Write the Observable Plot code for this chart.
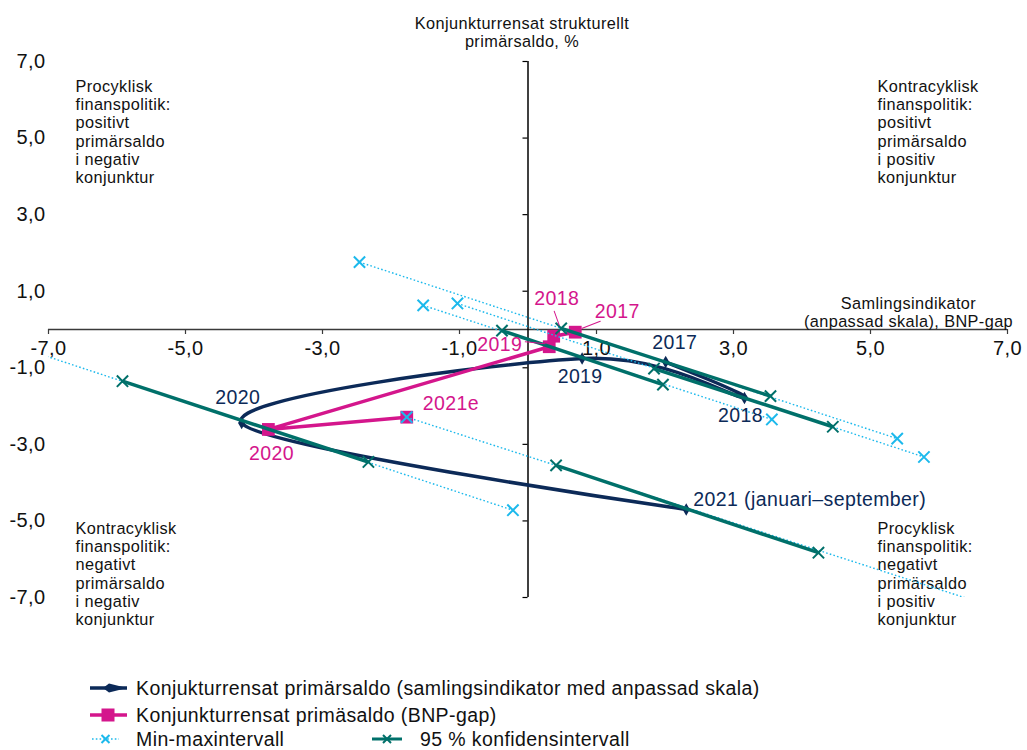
<!DOCTYPE html>
<html>
<head>
<meta charset="utf-8">
<script src="https://cdn.jsdelivr.net/npm/d3@7"></script>
<script src="https://cdn.jsdelivr.net/npm/@observablehq/plot@0.6"></script>
<style>
  body { margin: 0; background: #fff; font-family: "Liberation Sans", Arial, sans-serif; }
  #wrap { position: relative; width: 1027px; height: 750px; overflow: hidden; }
  .lg { position: absolute; left: 0; height: 20px; line-height: 20px; display: flex; align-items: center; font-size: 19.5px; letter-spacing: 0.4px; color: #111; white-space: nowrap; }
  .lg svg { display: block; }
</style>
</head>
<body>
<div id="wrap">
  <div id="chart"></div>
</div>
<script>
// ---- Data ----
const years = ["2017", "2018", "2019", "2020", "2021"];

// Konjukturrensat primärsaldo (samlingsindikator med anpassad skala)
const indikatorX = [2.01, 3.16, 0.79, -4.18, 2.31];
const indikatorY = [-0.85, -1.79, -0.76, -2.44, -4.70];
const indikatorLabels = ["2017", "2018", "2019", "2020", "2021 (januari–september)"];

// Konjunkturrensat primäsaldo (BNP-gap)
const gapX = [0.69, 0.375, 0.31, -3.79, -1.77];
const gapY = [-0.07, -0.175, -0.45, -2.61, -2.29];
const gapLabels = ["2017", "2018", "2019", "2020", "2021e"];

// Min-maxintervall (endpoints per year)
const minLoX = [-2.46, -1.03, -1.53, -7.5, -1.77];
const minLoY = [1.76, 0.68, 0.63, -0.42, -2.29];
const maxHiX = [5.39, 5.78, 3.56, -0.22, 6.8];
const maxHiY = [-2.85, -3.33, -2.35, -4.72, -7.25];

// 95 % konfidensintervall (endpoints per year)
const ciLoX = [0.485, 1.84, -0.38, -5.92, 0.41];
const ciLoY = [0.03, -1.02, -0.03, -1.35, -3.55];
const ciHiX = [3.54, 4.45, 1.97, -2.33, 4.24];
const ciHiY = [-1.74, -2.54, -1.44, -3.46, -5.83];

const xTicks = [-7, -5, -3, -1, 1, 3, 5, 7];
const yTicks = [7, 5, 3, 1, -1, -3, -5, -7];

const yTitle = "Konjunkturrensat strukturellt\nprimärsaldo, %";
const xTitle = "Samlingsindikator\n(anpassad skala), BNP-gap";
const quadTL = "Procyklisk\nfinanspolitik:\npositivt\nprimärsaldo\ni negativ\nkonjunktur";
const quadTR = "Kontracyklisk\nfinanspolitik:\npositivt\nprimärsaldo\ni positiv\nkonjunktur";
const quadBL = "Kontracyklisk\nfinanspolitik:\nnegativt\nprimärsaldo\ni negativ\nkonjunktur";
const quadBR = "Procyklisk\nfinanspolitik:\nnegativt\nprimärsaldo\ni positiv\nkonjunktur";

const legendItems = [
  "Konjukturrensat primärsaldo (samlingsindikator med anpassad skala)",
  "Konjunkturrensat primäsaldo (BNP-gap)",
  "Min-maxintervall",
  "95 % konfidensintervall"
];

// ---- Tables ----
const indikator = years.map((yr, i) => ({year: yr, x: indikatorX[i], y: indikatorY[i], label: indikatorLabels[i]}));
const gap = years.map((yr, i) => ({year: yr, x: gapX[i], y: gapY[i], label: gapLabels[i]}));
const minmax = years.map((yr, i) => ({year: yr, x1: minLoX[i], y1: minLoY[i], x2: maxHiX[i], y2: maxHiY[i]}));
const minmaxPts = minmax.flatMap(d => [{x: d.x1, y: d.y1}, {x: d.x2, y: d.y2}]);
const ci = years.map((yr, i) => ({year: yr, x1: ciLoX[i], y1: ciLoY[i], x2: ciHiX[i], y2: ciHiY[i]}));
const ciPts = ci.flatMap(d => [{x: d.x1, y: d.y1}, {x: d.x2, y: d.y2}]);

// ---- Styles ----
const NAVY = "#0c2a58", MAG = "#d4168c", CYAN = "#1cb9ec", TEAL = "#00706a";
const FONT = "'Liberation Sans', Arial, sans-serif";
const fmt = d => d.toFixed(1).replace(".", ",");

// label offsets in pixels (styling)
const indOff = {"2017": [9, -19, "middle"], "2018": [-4, 18, "middle"], "2019": [-2, 18, "middle"], "2020": [-4, -25, "middle"], "2021": [7, -10, "start"]};
const gapOff = {"2017": [42, -20, "middle"], "2018": [3, -37, "middle"], "2019": [-27, -2, "end"], "2020": [3, 24, "middle"], "2021": [16, -13, "start"]};

const lineShape = {draw(ctx, l) { ctx.moveTo(0, 0); ctx.lineTo(0, -l); }};
function leader(d, sx, sy, ex, ey) {
  const vx = ex - sx, vy = ey - sy;
  return Plot.vector([d], {
    x: "x", y: "y", dx: sx, dy: sy,
    length: Math.hypot(vx, vy),
    rotate: Math.atan2(vx, -vy) * 180 / Math.PI,
    anchor: "start", shape: lineShape,
    stroke: MAG, strokeWidth: 1
  });
}

const labelMarks = (data, off, color) => Object.keys(off).map(k => {
  const [dx, dy, ta] = off[k];
  return Plot.text(data.filter(d => d.year === k), {
    x: "x", y: "y", text: "label", dx, dy, textAnchor: ta,
    fill: color, fontSize: 19.5, fontFamily: FONT
  });
});

const SMALL = 16.3, LH = 1.125;
const quad = (txt, anchor, dx, dy) => Plot.text([txt], {
  text: d => d, frameAnchor: anchor, textAnchor: "start", lineAnchor: "top",
  dx, dy, fontSize: SMALL, lineHeight: LH, fill: "#111", fontFamily: FONT
});

const chart = Plot.plot({
  width: 1027, height: 670,
  marginLeft: 48, marginRight: 20, marginTop: 61, marginBottom: 73,
  x: {domain: [-7, 7], axis: null},
  y: {domain: [-7, 7], axis: null},
  style: {fontFamily: FONT, background: "#fff", overflow: "visible", letterSpacing: "0.4px"},
  marks: [
    // axes
    Plot.ruleY([0], {stroke: "#3a3a3a", strokeWidth: 1.4}),
    Plot.ruleX([0], {stroke: "#000", strokeWidth: 1.5}),
    Plot.ruleX(xTicks, {x: d => d, y1: 0, y2: 0, insetBottom: -5, stroke: "#3a3a3a", strokeWidth: 1.2}),
    Plot.ruleY(yTicks, {y: d => d, x1: 0, x2: 0, insetLeft: -5, stroke: "#000", strokeWidth: 1.2}),
    Plot.text(xTicks, {x: d => d, y: 0, dy: 19, text: fmt, fontSize: 20, fill: "#111", fontFamily: FONT}),
    Plot.text(yTicks, {y: d => d, frameAnchor: "left", textAnchor: "end", dx: -3, text: fmt, fontSize: 20, fill: "#111", fontFamily: FONT}),
    // axis titles
    Plot.text([yTitle], {text: d => d, frameAnchor: "top", textAnchor: "middle", lineAnchor: "top", dx: -6, dy: -46, fontSize: SMALL, lineHeight: LH, fill: "#111", fontFamily: FONT}),
    Plot.text([xTitle], {text: d => d, frameAnchor: "top-right", textAnchor: "middle", lineAnchor: "top", dx: -99, dy: 234, fontSize: SMALL, lineHeight: LH, fill: "#111", fontFamily: FONT}),
    // quadrant notes
    quad(quadTL, "top-left", 27, 17),
    quad(quadTR, "top-right", -130, 17),
    quad(quadBL, "top-left", 27, 459),
    quad(quadBR, "top-right", -130, 459),
    // samlingsindikator (smoothed)
    Plot.line(indikator, {x: "x", y: "y", curve: "cardinal", tension: 0, stroke: NAVY, strokeWidth: 3.5}),
    Plot.dot(indikator, {x: "x", y: "y", symbol: "diamond", r: 3.8, fill: NAVY}),
    // BNP-gap
    Plot.line(gap, {x: "x", y: "y", stroke: MAG, strokeWidth: 3.5}),
    Plot.dot(gap, {x: "x", y: "y", symbol: "square", r: 7.2, fill: MAG}),
    // min-max
    Plot.link(minmax, {x1: "x1", y1: "y1", x2: "x2", y2: "y2", stroke: CYAN, strokeWidth: 1.4, strokeDasharray: "1.6 2.2", clip: true}),
    Plot.dot(minmaxPts, {x: "x", y: "y", symbol: "times", r: 5.2, stroke: CYAN, strokeWidth: 2, clip: true}),
    // 95 % CI
    Plot.link(ci, {x1: "x1", y1: "y1", x2: "x2", y2: "y2", stroke: TEAL, strokeWidth: 3.5, clip: true}),
    Plot.dot(ciPts, {x: "x", y: "y", symbol: "times", r: 5.2, stroke: TEAL, strokeWidth: 2, clip: true}),
    // leaders for BNP-gap labels
    leader(gap[0], 7, -4, 25, -11),
    leader(gap[1], 5.5, -11, 0.5, -25),
    leader(gap[2], -4, -3, -24, -5),
    // labels
    ...labelMarks(indikator, indOff, NAVY),
    ...labelMarks(gap, gapOff, MAG)
  ]
});
document.getElementById("chart").appendChild(chart);

// ---- Legend (HTML below the SVG) ----
const wrap = document.getElementById("wrap");
const sym = {
  0: `<svg width="40" height="20"><line x1="1" y1="10" x2="38" y2="10" stroke="${NAVY}" stroke-width="3.5"/><path d="M14 10 L20 5.5 L38 10 L20 14.5 Z" fill="${NAVY}"/></svg>`,
  1: `<svg width="40" height="20"><line x1="1" y1="10" x2="38" y2="10" stroke="${MAG}" stroke-width="3.5"/><rect x="12.5" y="3.5" width="13" height="13" fill="${MAG}"/></svg>`,
  2: `<svg width="40" height="20"><line x1="3" y1="10" x2="30" y2="10" stroke="${CYAN}" stroke-width="1.4" stroke-dasharray="1.6 2.2"/><path d="M12.5 6 L20.5 14 M20.5 6 L12.5 14" stroke="${CYAN}" stroke-width="2"/></svg>`,
  3: `<svg width="40" height="20"><line x1="0" y1="10" x2="30" y2="10" stroke="${TEAL}" stroke-width="3"/><path d="M11 6 L19 14 M19 6 L11 14" stroke="${TEAL}" stroke-width="2"/></svg>`
};
const rows = [
  {i: 0, left: 89, top: 678, gap: 7},
  {i: 1, left: 89, top: 705, gap: 7},
  {i: 2, left: 89, top: 729, gap: 7},
  {i: 3, left: 372, top: 729, gap: 8}
];
rows.forEach(r => {
  const el = document.createElement("div");
  el.className = "lg";
  el.style.left = r.left + "px";
  el.style.top = r.top + "px";
  el.innerHTML = sym[r.i] + `<span style="margin-left:${r.gap}px">${legendItems[r.i]}</span>`;
  wrap.appendChild(el);
});
</script>
</body>
</html>
